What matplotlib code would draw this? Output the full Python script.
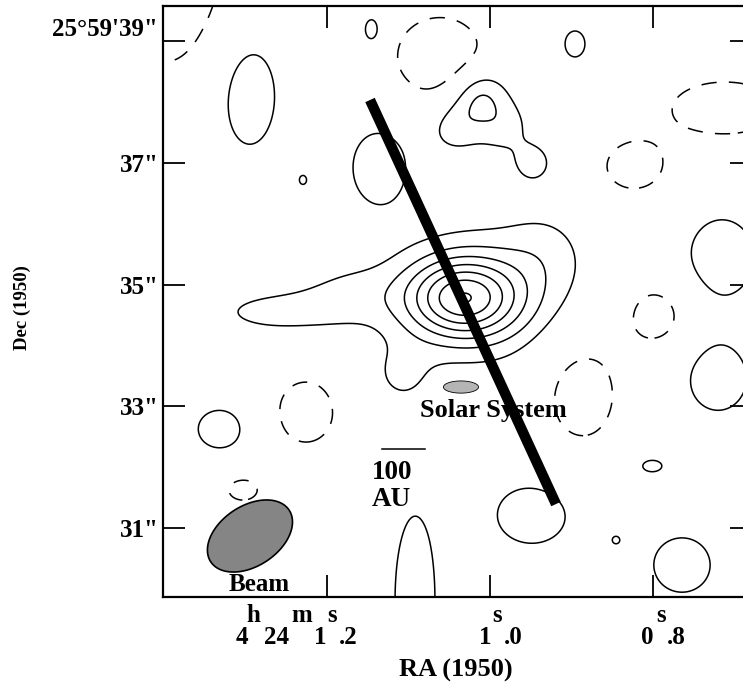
import numpy as np
import matplotlib
matplotlib.use('Agg')
import matplotlib.pyplot as plt

plt.rcParams['font.family'] = 'Liberation Serif'
plt.rcParams['font.weight'] = 'bold'

# map centre declination, used to turn RA seconds into arcsec
dec_ref = 25.99
as_per_s = 15 * np.cos(np.radians(dec_ref))

# brightness components: RA (s after 4h24m), Dec (arcsec after 25d59'), peak, sigma RA ("), sigma Dec (")
comp_ra   = [1.0344, 1.0000, 0.9325, 1.2577, 1.1718, 1.1104,          # main source
             1.0123, 1.0429, 0.9816, 0.9472,                          # northern knot
             1.2957, 1.1448, 0.8957, 1.1362, 1.2294, 1.3313, 0.7153,
             0.7202, 0.8012, 0.9485, 1.0920, 0.7644, 0.8454,          # positive noise
             1.3988, 1.0613, 0.7117, 0.8233, 0.7951, 0.8871, 1.2258, 1.3031]  # negative noise
comp_dec  = [34.778, 34.828, 35.567, 34.548, 34.910, 33.513,
             38.113, 37.580, 37.580, 36.996,
             38.228, 39.181, 38.951, 36.930, 36.717, 32.626, 35.452,
             33.448, 32.019, 31.214, 29.817, 30.392, 30.803,
             39.673, 38.737, 37.899, 36.930, 34.499, 33.234, 32.906, 31.624]
comp_peak = [5.6, 1.6, 0.8, 1.3, 0.9, 1.0,
             2.2, 1.4, 1.3, 1.5,
             1.8, 1.6, 1.6, 1.6, 1.2, 1.6, 1.6,
             1.6, 1.6, 1.6, 1.6, 1.6, 1.15,
             -1.6, -2.0, -1.6, -1.6, -1.6, -1.6, -1.6, -1.6]
comp_sx   = [0.66, 1.07, 0.50, 0.95, 0.58, 0.41,
             0.34, 0.33, 0.33, 0.23,
             0.45, 0.14, 0.17, 0.44, 0.08, 0.37, 0.54,
             0.48, 0.17, 0.59, 0.34, 0.48, 0.08,
             1.12, 0.60, 0.88, 0.46, 0.41, 0.54, 0.46, 0.24]
comp_sy   = [0.46, 0.82, 0.50, 0.30, 0.36, 0.41,
             0.34, 0.33, 0.33, 0.23,
             0.90, 0.22, 0.22, 0.59, 0.10, 0.32, 0.63,
             0.53, 0.10, 0.48, 1.41, 0.46, 0.08,
             1.07, 0.55, 0.44, 0.37, 0.42, 0.76, 0.51, 0.17]

pos_levels = [1, 2, 3, 4, 5, 6, 7]
neg_levels = [-1]

# beam (arcsec, deg E of N) and other overlays
beam_ra, beam_dec = 1.2945, 30.869
beam_major, beam_minor, beam_pa = 1.55, 0.99, -57
sun_ra, sun_dec, sun_w, sun_h = 1.0356, 33.316, 0.58, 0.20
bar_ra = [1.1472, 0.9190]
bar_dec = [38.031, 31.394]
scale_au, dist_pc = 100, 140
scale_ra, scale_dec = 1.1061, 32.298

ytick_vals = [39, 37, 35, 33, 31]
ytick_labels = ['', '37"', '35"', '33"', '31"']
xtick_vals = [1.2, 1.0, 0.8]

ra = np.linspace(0.62, 1.45, 700)
dec = np.linspace(29.3, 40.0, 700)
RA, DEC = np.meshgrid(ra, dec)
Z = np.zeros_like(RA)
for r0, d0, a, sx, sy in zip(comp_ra, comp_dec, comp_peak, comp_sx, comp_sy):
    dx = (RA - r0) * as_per_s
    dy = DEC - d0
    Z += a * np.exp(-0.5 * ((dx / sx) ** 2 + (dy / sy) ** 2))

fig = plt.figure(figsize=(7.43, 6.85), dpi=100)
ax = fig.add_axes([163 / 743, 88 / 685, 589 / 743, 591 / 685])

ax.contour(RA, DEC, Z, levels=pos_levels, colors='k', linewidths=1.1, linestyles='solid')
cn = ax.contour(RA, DEC, Z, levels=neg_levels, colors='k', linewidths=1.1)
cn.set_linestyle((0, (10, 8)))

# beam ellipse
t = np.linspace(0, 2 * np.pi, 200)
pa = np.radians(beam_pa)
u = beam_major / 2 * np.cos(t)
v = beam_minor / 2 * np.sin(t)
east = u * np.sin(pa) + v * np.cos(pa)
north = u * np.cos(pa) - v * np.sin(pa)
ax.fill(beam_ra + east / as_per_s, beam_dec + north, facecolor='#858585', edgecolor='k', lw=1.2, zorder=3)
ax.text(1.2835, 30.07, 'Beam', ha='center', va='center', fontsize=18)

# solar system for scale
ax.fill(sun_ra + sun_w / 2 * np.cos(t) / as_per_s, sun_dec + sun_h / 2 * np.sin(t),
        facecolor='#b5b5b5', edgecolor='k', lw=0.6, zorder=3)
ax.text(0.9963, 32.93, 'Solar System', ha='center', va='center', fontsize=19, zorder=3)

# 100 AU scale bar
half = scale_au / dist_pc / 2 / as_per_s
ax.plot([scale_ra + half, scale_ra - half], [scale_dec, scale_dec], color='k', lw=1.1)
ax.text(1.1448, 31.92, '100', ha='left', va='center', fontsize=19.5)
ax.text(1.1448, 31.47, 'AU', ha='left', va='center', fontsize=19.5)

# the thick bar
ax.plot(bar_ra, bar_dec, color='k', lw=7.5, solid_capstyle='butt', zorder=4)

ax.set_xlim(1.4012, 0.6785)
ax.set_ylim(29.867, 39.575)

for s in ax.spines.values():
    s.set_linewidth(1.6)
ax.tick_params(direction='in', length=16, width=1.3, top=True, right=True, pad=3)
ax.set_yticks(ytick_vals)
ax.set_yticklabels(ytick_labels, fontsize=18)
ax.annotate("25°59'39\"", xy=(0, 39), xycoords=('axes fraction', 'data'),
            xytext=(-3.5, 8.5), textcoords='offset points', ha='right', va='center', fontsize=18)
ax.set_xticks(xtick_vals)
ax.set_xticklabels([])

# RA tick labels with the h m s superscripts (offsets in pixels from the tick)
ra_parts = [
    (1.2, [('h', -74, 'up'), ('m', -25, 'up'), ('s', 5, 'up'),
           ('4', -85, 'dn'), ('24', -50, 'dn'), ('1', -7, 'dn'), ('.2', 21, 'dn')]),
    (1.0, [('s', 7, 'up'), ('1', -5, 'dn'), ('.0', 23, 'dn')]),
    (0.8, [('s', 8, 'up'), ('0', -6, 'dn'), ('.8', 23, 'dn')]),
]
for xv, parts in ra_parts:
    for txt, off, row in parts:
        dy = -18 if row == 'up' else -41
        ax.annotate(txt, xy=(xv, 0), xycoords=('data', 'axes fraction'),
                    xytext=(off * 0.72, dy * 0.72), textcoords='offset points',
                    ha='center', va='center', fontsize=18)

fig.text(456 / 743, 1 - 670 / 685, 'RA (1950)', ha='center', va='center', fontsize=19)
fig.text(22 / 743, 1 - 308 / 685, 'Dec (1950)', ha='center', va='center', fontsize=13.5, rotation=90)

fig.savefig('out.png', dpi=100)
